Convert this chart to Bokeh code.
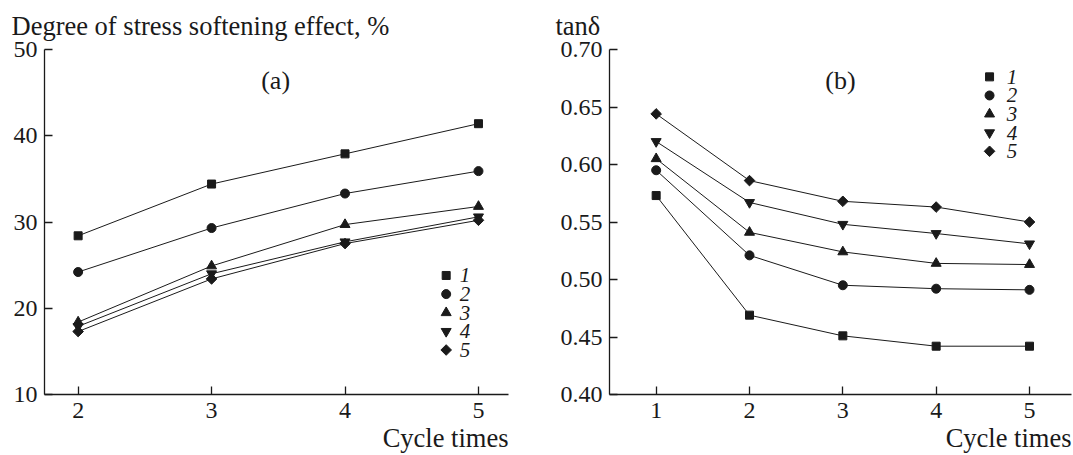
import math
from bokeh.plotting import figure
from bokeh.layouts import row
from bokeh.models import Label, FixedTicker, NumeralTickFormatter, Title
from bokeh.core.properties import value
from bokeh.embed import file_html
from bokeh.resources import INLINE

# ---------------- data ----------------
cycles_a = [2, 3, 4, 5]
a1 = [28.4, 34.4, 37.9, 41.4]
a2 = [24.2, 29.3, 33.3, 35.9]
a3 = [18.4, 24.9, 29.7, 31.8]
a4 = [17.9, 24.0, 27.7, 30.6]
a5 = [17.3, 23.4, 27.5, 30.2]

cycles_b = [1, 2, 3, 4, 5]
b1 = [0.573, 0.469, 0.451, 0.442, 0.442]
b2 = [0.595, 0.521, 0.495, 0.492, 0.491]
b3 = [0.605, 0.541, 0.524, 0.514, 0.513]
b4 = [0.620, 0.567, 0.548, 0.540, 0.531]
b5 = [0.644, 0.586, 0.568, 0.563, 0.550]

series_labels = ["1", "2", "3", "4", "5"]
a_ticks = [10, 20, 30, 40, 50]
b_ticks = [0.40, 0.45, 0.50, 0.55, 0.60, 0.65, 0.70]

FONT = "Liberation Serif"
INK = "#1a1a1a"
# marker, size, rotation (the diamond is a square turned by 45 degrees)
markers = [("square", 8, 0.0), ("circle", 9, 0.0), ("triangle", 10, 0.0),
           ("inverted_triangle", 10, 0.0), ("square", 7.5, math.pi / 4)]


def style(p, xticks, yticks):
    p.xgrid.visible = False
    p.ygrid.visible = False
    p.outline_line_color = None
    p.background_fill_color = "white"
    p.border_fill_color = "white"
    for ax in (p.xaxis[0], p.yaxis[0]):
        ax.axis_line_color = INK
        ax.axis_line_width = 1.3
        ax.major_tick_line_color = INK
        ax.major_tick_line_width = 1.3
        ax.major_tick_in = 8
        ax.major_tick_out = 0
        ax.minor_tick_line_color = None
        ax.major_label_text_font = FONT
        ax.major_label_text_font_size = "24px"
        ax.major_label_text_color = INK
    p.xaxis[0].ticker = FixedTicker(ticks=xticks)
    p.yaxis[0].ticker = FixedTicker(ticks=yticks)
    p.xaxis[0].major_label_standoff = 8
    p.yaxis[0].major_label_standoff = 7


def add_series(p, xs, ys_list):
    for ys, (m, s, ang) in zip(ys_list, markers):
        p.line(xs, ys, line_color=INK, line_width=1)
        p.scatter(xs, ys, marker=m, size=s, angle=ang,
                  fill_color=INK, line_color=INK)


def add_key(p, mx, lx, y0, dy):
    """Marker key: one marker and one italic number per series."""
    for i, ((m, s, ang), lab) in enumerate(zip(markers, series_labels)):
        y = y0 - i * dy
        p.scatter([mx], [y], marker=m, size=s, angle=ang,
                  fill_color=INK, line_color=INK)
        p.text([lx], [y], text=[lab], text_font=value(FONT),
               text_font_style="italic", text_font_size="21px",
               text_color=INK, text_baseline="middle", text_align="left")


def add_titles(p, top_text, top_offset):
    p.add_layout(Title(text=top_text, align="left", offset=top_offset,
                       text_font=FONT, text_font_size="26.5px",
                       text_font_style="normal", text_color=INK,
                       standoff=17), "above")
    p.add_layout(Title(text="Cycle times", align="right", offset=0,
                       text_font=FONT, text_font_size="26.5px",
                       text_font_style="normal", text_color=INK,
                       standoff=0), "below")


# ---------------- panel (a) ----------------
pa = figure(width=540, height=455, x_range=(1.748, 5.225), y_range=(10, 50),
            min_border_left=44, min_border_right=32, min_border_top=47,
            min_border_bottom=61, output_backend="svg", toolbar_location=None)
style(pa, cycles_a, a_ticks)
add_series(pa, cycles_a, [a1, a2, a3, a4, a5])
add_key(pa, 4.758, 4.86, 23.8, 2.16)
add_titles(pa, "Degree of stress softening effect, %", -33)
pa.add_layout(Label(x=3.48, y=46.4, text="(a)", text_font=FONT,
                    text_font_size="26px", text_color=INK,
                    text_baseline="middle", text_align="center"))

# ---------------- panel (b) ----------------
pb = figure(width=533, height=455, x_range=(0.5, 5.45), y_range=(0.40, 0.70),
            min_border_left=69, min_border_right=2, min_border_top=47,
            min_border_bottom=61, output_backend="svg", toolbar_location=None)
style(pb, cycles_b, b_ticks)
pb.yaxis[0].formatter = NumeralTickFormatter(format="0.00")
add_series(pb, cycles_b, [b1, b2, b3, b4, b5])
add_key(pb, 4.572, 4.755, 0.6762, 0.01618)
add_titles(pb, "tanδ", -54)
pb.add_layout(Label(x=2.975, y=0.673, text="(b)", text_font=FONT,
                    text_font_size="26px", text_color=INK,
                    text_baseline="middle", text_align="center"))

layout = row(pa, pb, spacing=0)
open("out.html", "w").write(file_html(layout, INLINE))
